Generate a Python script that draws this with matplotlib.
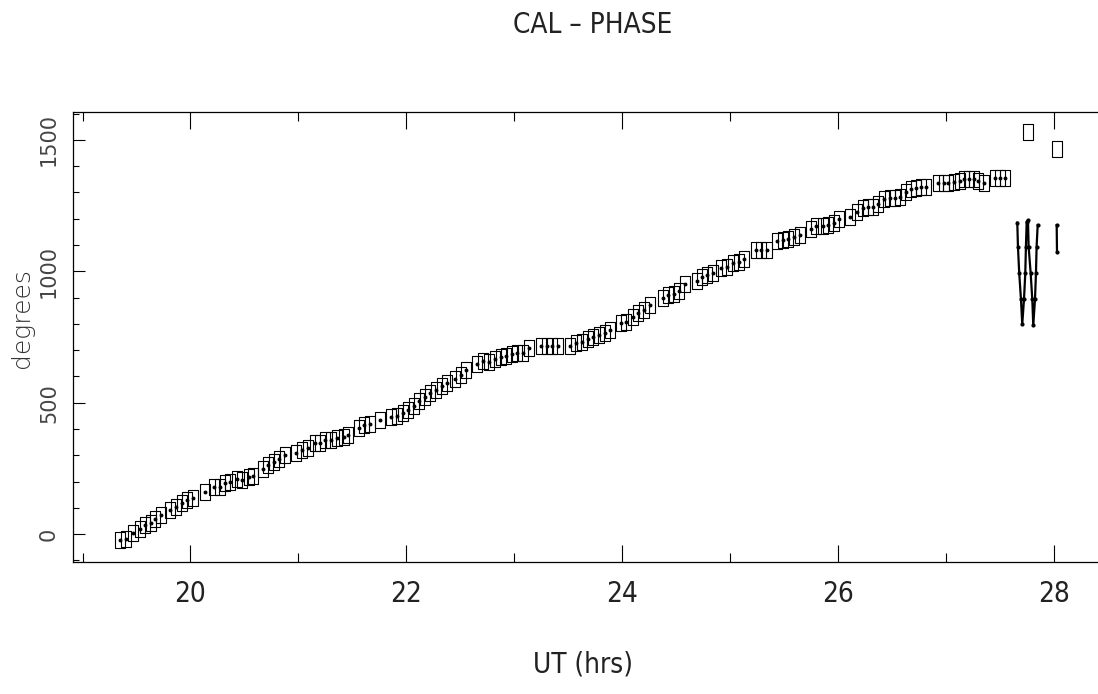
import numpy as np
import matplotlib.pyplot as plt
from matplotlib.path import Path
from matplotlib.ticker import MultipleLocator

# phase of the calibrator vs UT
ut = [19.35, 19.40, 19.47, 19.53, 19.58, 19.63, 19.67, 19.73, 19.81, 19.87,
      19.92, 19.97, 20.02, 20.13, 20.22, 20.27, 20.32, 20.37, 20.43, 20.48,
      20.54, 20.58, 20.67, 20.72, 20.77, 20.82, 20.88, 20.98, 21.03, 21.09,
      21.15, 21.20, 21.25, 21.30, 21.36, 21.42, 21.46, 21.56, 21.61, 21.66,
      21.76, 21.86, 21.91, 21.97, 22.02, 22.07, 22.12, 22.17, 22.22, 22.28,
      22.33, 22.38, 22.45, 22.51, 22.55, 22.66, 22.71, 22.77, 22.82, 22.88,
      22.92, 22.98, 23.03, 23.08, 23.14, 23.25, 23.30, 23.35, 23.41, 23.52,
      23.57, 23.63, 23.68, 23.73, 23.79, 23.84, 23.89, 23.99, 24.04, 24.10,
      24.15, 24.20, 24.26, 24.38, 24.43, 24.48, 24.53, 24.58, 24.69, 24.74,
      24.79, 24.84, 24.92, 24.97, 25.03, 25.08, 25.13, 25.24, 25.29, 25.34,
      25.44, 25.49, 25.54, 25.59, 25.65, 25.75, 25.80, 25.86, 25.91, 25.96,
      26.01, 26.11, 26.18, 26.23, 26.28, 26.33, 26.37, 26.43, 26.48, 26.53,
      26.58, 26.63, 26.68, 26.72, 26.77, 26.82, 26.93, 26.98, 27.02, 27.08,
      27.13, 27.17, 27.22, 27.26, 27.30, 27.35, 27.46, 27.50, 27.55]
phase = [-23, -20, 5, 18, 34, 43, 56, 72, 91, 104,
         119, 129, 136, 159, 178, 178, 193, 199, 208, 206,
         218, 223, 247, 263, 275, 284, 301, 309, 320, 326,
         345, 348, 358, 360, 364, 368, 377, 402, 415, 419,
         434, 446, 449, 462, 472, 487, 507, 520, 536, 548,
         563, 576, 589, 605, 624, 647, 660, 656, 665, 675,
         678, 685, 690, 690, 707, 717, 717, 717, 717, 717,
         726, 732, 741, 749, 757, 766, 776, 802, 808, 827,
         840, 853, 872, 897, 910, 915, 924, 952, 964, 977,
         986, 995, 1011, 1015, 1030, 1036, 1046, 1081, 1081, 1081,
         1116, 1119, 1122, 1132, 1138, 1161, 1172, 1172, 1176, 1185,
         1198, 1208, 1227, 1240, 1243, 1246, 1256, 1274, 1278, 1280,
         1284, 1303, 1312, 1316, 1320, 1322, 1335, 1335, 1335, 1339,
         1345, 1350, 1350, 1350, 1345, 1337, 1354, 1354, 1354]

# two lone boxes at the end
ut_odd = [27.763, 28.028]
phase_odd = [1531, 1464]

# wrapping points joined by a line
ut_wrap = [27.663, 27.669, 27.681, 27.697, 27.709, 27.725, 27.737, 27.743,
           27.750, 27.762, 27.768, 27.787, 27.802, 27.811, 27.827, 27.836,
           27.842, 27.852]
phase_wrap = [1185, 1094, 992, 893, 799, 893, 992, 1094,
              1189, 1195, 1094, 992, 893, 794, 893, 992,
              1094, 1176]
ut_tail = [28.028, 28.031]
phase_tail = [1176, 1074]

# tall open rectangle used as the plot symbol
box = Path([(-0.32, -0.5), (0.32, -0.5), (0.32, 0.5), (-0.32, 0.5), (-0.32, -0.5)],
           [Path.MOVETO, Path.LINETO, Path.LINETO, Path.LINETO, Path.CLOSEPOLY])

thin = dict(family='DejaVu Sans', stretch='condensed', weight='light')

fig = plt.figure(figsize=(10.98, 6.94), dpi=100)
ax = fig.add_axes([73 / 1098, 132 / 694, 1 - 73 / 1098, 450 / 694])

ax.plot(ut, phase, ls='none', marker=box, ms=11, mfc='none', mec='black', mew=0.8)
ax.plot(ut, phase, ls='none', marker='o', ms=1.8, color='black')
ax.plot(ut_odd, phase_odd, ls='none', marker=box, ms=11, mfc='none', mec='black', mew=0.8)
ax.plot(ut_wrap, phase_wrap, '-', color='black', lw=1.6, marker='o', ms=2)
ax.plot(ut_tail, phase_tail, '-', color='black', lw=1.6, marker='o', ms=2)

ax.set_xlim(18.911, 28.411)
ax.set_ylim(-106, 1606)
ax.spines['right'].set_visible(False)
for s in ['left', 'top', 'bottom']:
    ax.spines[s].set_linewidth(0.9)

ax.xaxis.set_major_locator(MultipleLocator(2))
ax.xaxis.set_minor_locator(MultipleLocator(1))
ax.yaxis.set_major_locator(MultipleLocator(500))
ax.yaxis.set_minor_locator(MultipleLocator(100))
ax.tick_params(axis='x', which='both', direction='in', top=True, bottom=True, width=0.8)
ax.tick_params(axis='x', which='major', length=12.5, pad=13)
ax.tick_params(axis='x', which='minor', length=6.5)
ax.tick_params(axis='y', which='both', direction='in', left=True, right=False, width=0.8)
ax.tick_params(axis='y', which='major', length=8.5, pad=10)
ax.tick_params(axis='y', which='minor', length=4.2)

for lab in ax.get_xticklabels():
    lab.set_fontproperties(thin)
    lab.set_fontsize(20)
    lab.set_color('#222222')
for lab in ax.get_yticklabels():
    lab.set_rotation(90)
    lab.set_va('center')
    lab.set_fontsize(15)
    lab.set_color('#444444')

fig.text(593 / 1098, 1 - 25 / 694, 'CAL \u2013 PHASE', ha='center', va='center',
         fontsize=20, color='#222222', **thin)
fig.text(583 / 1098, 1 - 665 / 694, 'UT (hrs)', ha='center', va='center',
         fontsize=20, color='#222222', **thin)
fig.text(22 / 1098, 1 - 318 / 694, 'degrees', ha='center', va='center',
         rotation=90, fontsize=18, color='#333333', weight='light')

fig.savefig('out.png', dpi=100)
